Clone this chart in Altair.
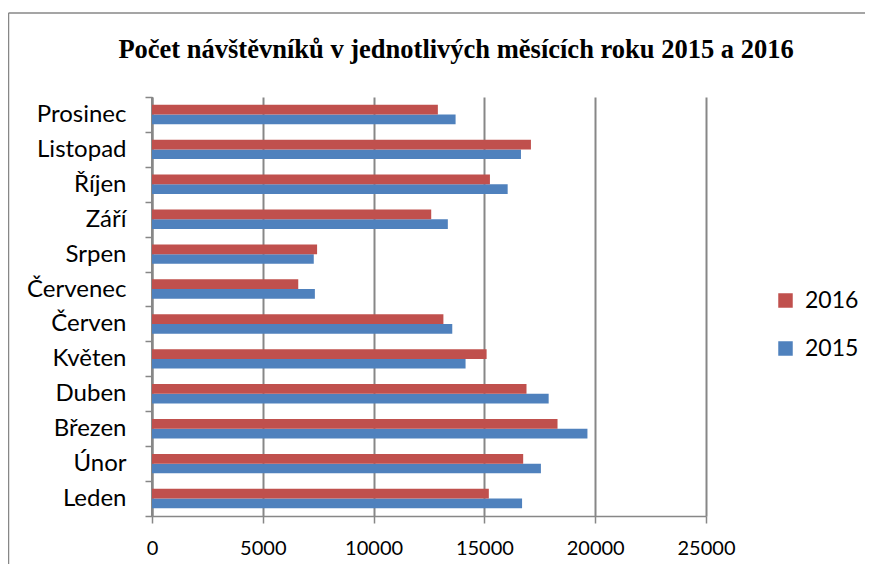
import altair as alt
import pandas as pd

months = ["Leden", "Únor", "Březen", "Duben", "Květen", "Červen",
          "Červenec", "Srpen", "Září", "Říjen", "Listopad", "Prosinec"]
v2015 = [16700, 17550, 19650, 17900, 14150, 13550, 7350, 7300, 13350, 16050, 16650, 13700]
v2016 = [15200, 16750, 18300, 16900, 15100, 13150, 6600, 7450, 12600, 15250, 17100, 12900]
series = ["2016", "2015"]
colors = ["#C0504D", "#4F81BD"]
x_ticks = [0, 5000, 10000, 15000, 20000, 25000]
title_text = "Počet návštěvníků v jednotlivých měsících roku 2015 a 2016"

rows = []
for m, a, b in zip(months, v2015, v2016):
    rows.append({"mesic": m, "rok": "2015", "pocet": a})
    rows.append({"mesic": m, "rok": "2016", "pocet": b})
df = pd.DataFrame(rows)
one = pd.DataFrame({"t": [title_text]})

GRAY = "#878787"
FONT = "Lato"

bars = alt.Chart(df).mark_bar().encode(
    x=alt.X("pocet:Q",
            scale=alt.Scale(domain=[0, 25000], nice=False),
            axis=alt.Axis(values=x_ticks, title=None, format="d", grid=True,
                          gridColor=GRAY, gridWidth=2, domainColor=GRAY, domainWidth=1.5,
                          tickColor=GRAY, tickWidth=1.5, tickSize=7,
                          labelFont=FONT, labelFontSize=20, labelColor="black",
                          labelPadding=15, labelFlush=False)),
    y=alt.Y("mesic:N", sort=months[::-1],
            scale=alt.Scale(paddingInner=0, paddingOuter=0),
            axis=alt.Axis(title=None, tickBand="extent", domainColor=GRAY, domainWidth=2,
                          tickColor=GRAY, tickWidth=1.5, tickSize=7,
                          labelFont=FONT, labelFontSize=24, labelColor="black",
                          labelPadding=19)),
    yOffset=alt.YOffset("rok:N", sort=series,
                        scale=alt.Scale(paddingInner=0, paddingOuter=0.8)),
    color=alt.Color("rok:N", sort=series,
                    scale=alt.Scale(domain=series, range=colors),
                    legend=alt.Legend(title=None, orient="none", legendX=622, legendY=192,
                                      symbolType="square", symbolSize=210, symbolStrokeWidth=0,
                                      labelFont=FONT, labelFontSize=23, labelColor="black",
                                      labelOffset=8, rowPadding=24)),
)

yline = alt.Chart(one).mark_rule(color=GRAY, strokeWidth=2).encode(
    x=alt.datum(0), y=alt.value(0), y2=alt.value(419))

title = alt.Chart(one).mark_text(font="Liberation Serif", fontSize=26.5, fontWeight="bold",
                                 align="center", baseline="alphabetic", color="black").encode(
    text="t:N", x=alt.value(304), y=alt.value(-39))

top_border = alt.Chart(one).mark_rule(color=GRAY, strokeWidth=1.5).encode(
    x=alt.value(-143.5), x2=alt.value(720), y=alt.value(-84))
left_border = alt.Chart(one).mark_rule(color=GRAY, strokeWidth=1.5).encode(
    x=alt.value(-143.5), y=alt.value(-84), y2=alt.value(470))

chart = alt.layer(yline, bars, title, top_border, left_border).properties(
    width=554, height=419,
    autosize=alt.AutoSizeParams(type="none"),
    padding={"left": 144, "top": 89, "right": 159, "bottom": 48},
).configure_view(stroke=None)

chart.save("out.html", embed_options={"renderer": "svg", "actions": False})
